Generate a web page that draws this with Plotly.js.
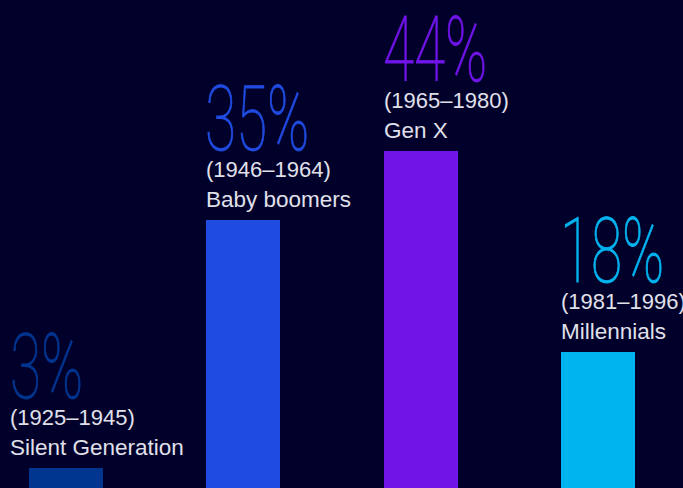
<!DOCTYPE html>
<html>
<head>
<meta charset="utf-8">
<script src="https://cdn.plot.ly/plotly-3.0.1.min.js"></script>
<style>
  html, body { margin: 0; padding: 0; background: #00002b; }
  #chart { width: 683px; height: 488px; }
</style>
</head>
<body>
<div id="chart"></div>
<script>
const generations = ["Silent Generation", "Baby boomers", "Gen X", "Millennials"];
const yearRanges = ["(1925–1945)", "(1946–1964)", "(1965–1980)", "(1981–1996)"];
const shares = [3, 35, 44, 18];
const shareLabels = ["3%", "35%", "44%", "18%"];
const barColors = ["#003590", "#1f4be0", "#7014e8", "#00b4f0"];

const xIdx = generations.map((_, i) => i);
const BAR_W = 0.417;
const LABEL_FONT = "'Liberation Sans', Arial, sans-serif";
const textColor = "#e0e0ea";

const trace = {
  type: "bar",
  x: xIdx,
  y: shares,
  width: BAR_W,
  marker: { color: barColors, line: { width: 0 } },
  hoverinfo: "skip"
};

const annotations = [];
generations.forEach((g, i) => {
  const extraShift = i === 0 ? -20 : -1;
  annotations.push({
    xref: "x", yref: "y", x: i - BAR_W / 2, y: shares[i],
    xanchor: "left", yanchor: "bottom", xshift: extraShift, yshift: 7,
    text: g, showarrow: false, borderpad: 0,
    font: { family: LABEL_FONT, size: 22.5, color: textColor }
  });
  annotations.push({
    xref: "x", yref: "y", x: i - BAR_W / 2, y: shares[i],
    xanchor: "left", yanchor: "bottom", xshift: extraShift, yshift: 37,
    text: yearRanges[i], showarrow: false, borderpad: 0,
    font: { family: LABEL_FONT, size: 22, color: textColor }
  });
  annotations.push({
    xref: "x", yref: "y", x: i - BAR_W / 2, y: shares[i],
    xanchor: "left", yanchor: "bottom", xshift: extraShift + (i === 0 ? 0 : -1), yshift: 47,
    text: shareLabels[i], showarrow: false, borderpad: 0,
    font: { family: "Roboto, 'Noto Sans', sans-serif", size: 90, color: barColors[i], weight: 100 }
  });
});

const layout = {
  width: 683, height: 488,
  margin: { l: 0, r: 0, t: 0, b: 0, pad: 0 },
  paper_bgcolor: "#00002b",
  plot_bgcolor: "#00002b",
  showlegend: false,
  bargap: 0,
  xaxis: { range: [-0.372, 3.48], visible: false, fixedrange: true },
  yaxis: { range: [0.35, 63.56], visible: false, fixedrange: true },
  annotations: annotations
};

Plotly.newPlot("chart", [trace], layout, { staticPlot: true, displayModeBar: false }).then(() => {
  document.querySelectorAll("#chart .annotation-text").forEach(t => {
    const fs = parseFloat(t.style.fontSize);
    if (fs >= 60) {
      const bb = t.getBBox();
      const x0 = bb.x;
      t.setAttribute("transform", `translate(${x0},0) scale(0.63,1) translate(${-x0},0)`);
      t.style.stroke = t.style.fill;
      t.style.strokeWidth = "0.9px";
    }
  });
});
</script>
</body>
</html>
